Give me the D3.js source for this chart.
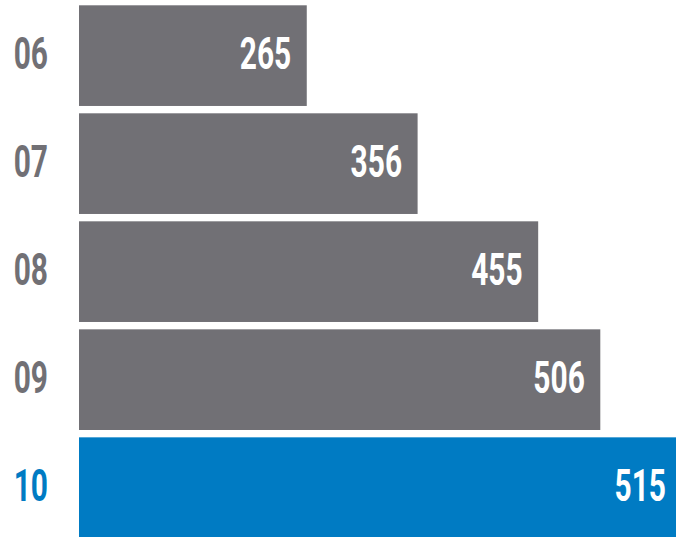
<!DOCTYPE html>
<html><head><meta charset="utf-8">
<script src="https://cdn.jsdelivr.net/npm/d3@7"></script>
<style>html,body{margin:0;padding:0;background:#fff;overflow:hidden}svg{display:block}</style>
</head><body>
<script>
const years = ["06", "07", "08", "09", "10"];
const values = [265, 356, 455, 506, 515];
const highlight = ["10"];

const W = 676, H = 537;
const grey = "#717075", blue = "#007bc3";
const svg = d3.select("body").append("svg").attr("width", W).attr("height", H);

const x = d3.scaleLinear().domain([78, 506]).range([79, 600.3]);
const y = d3.scaleBand().domain(years).range([5.3, 538]).paddingInner(0.068).paddingOuter(0);

const data = years.map((k, i) => ({ year: k, value: values[i], hi: highlight.includes(k) }));
const barEnd = d => d.hi ? W + 5 : x(d.value);

svg.selectAll("rect.bar").data(data).join("rect")
  .attr("class", "bar")
  .attr("x", x(78))
  .attr("y", d => y(d.year))
  .attr("width", d => barEnd(d) - x(78))
  .attr("height", y.bandwidth())
  .attr("fill", d => d.hi ? blue : grey);

const font = "Roboto, 'DejaVu Sans Condensed', sans-serif";
const sx = 0.68;

svg.selectAll("g.val").data(data).join("g")
  .attr("class", "val")
  .attr("transform", d => `translate(${(d.hi ? W - 10 : x(d.value) - 15.5)},${y(d.year) + y.bandwidth() / 2 + 13.5}) scale(${sx},1)`)
  .append("text")
  .attr("text-anchor", "end")
  .attr("font-family", font).attr("font-weight", 700).attr("font-size", 44)
  .attr("fill", "#fff")
  .text(d => d.value);

svg.selectAll("g.yr").data(data).join("g")
  .attr("class", "yr")
  .attr("transform", d => `translate(48,${y(d.year) + y.bandwidth() / 2 + 13.5}) scale(${sx},1)`)
  .append("text")
  .attr("text-anchor", "end")
  .attr("font-family", font).attr("font-weight", 700).attr("font-size", 44)
  .attr("fill", d => d.hi ? blue : grey)
  .text(d => d.year);
</script>
</body></html>
